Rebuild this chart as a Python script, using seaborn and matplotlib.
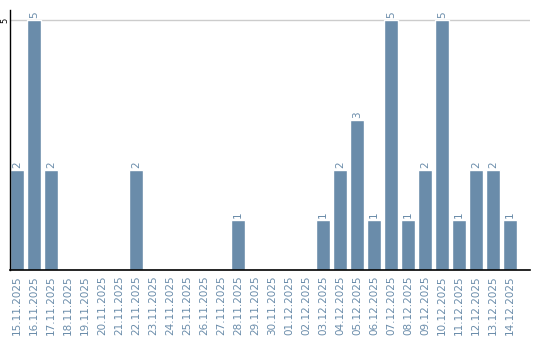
import matplotlib
matplotlib.use("Agg")
import matplotlib.pyplot as plt
import seaborn as sns
import pandas as pd

dates = ["15.11.2025", "16.11.2025", "17.11.2025", "18.11.2025", "19.11.2025",
         "20.11.2025", "21.11.2025", "22.11.2025", "23.11.2025", "24.11.2025",
         "25.11.2025", "26.11.2025", "27.11.2025", "28.11.2025", "29.11.2025",
         "30.11.2025", "01.12.2025", "02.12.2025", "03.12.2025", "04.12.2025",
         "05.12.2025", "06.12.2025", "07.12.2025", "08.12.2025", "09.12.2025",
         "10.12.2025", "11.12.2025", "12.12.2025", "13.12.2025", "14.12.2025"]
counts = [2, 5, 2, 0, 0, 0, 0, 2, 0, 0, 0, 0, 0, 1, 0,
          0, 0, 0, 1, 2, 3, 1, 5, 1, 2, 5, 1, 2, 2, 1]

df = pd.DataFrame({"date": dates, "count": counts})

sns.set_style("white")
plt.rcParams['font.family'] = ['DejaVu Sans']

bar_color = "#6a8caa"
text_color = "#6a8caa"

fig = plt.figure(figsize=(5.4, 3.4), dpi=100)
ax = fig.add_axes([10/540, 70/340, 520/540, 260/340])

sns.barplot(data=df, x="date", y="count", color=bar_color, saturation=1,
            width=0.82, ax=ax)

ax.set_xlim(-0.41, 30.18)
ax.set_ylim(0, 5.2)
ax.set_yticks([5])
ax.set_yticklabels(["5"], rotation=90, va="center", ha="right", fontsize=6,
                   color="black")
ax.tick_params(axis="y", length=0, pad=0.3)
ax.tick_params(axis="x", length=0, pad=4)
ax.set_xticks(range(len(dates)))
ax.set_xticklabels(dates, rotation=90, fontsize=7.5, color=text_color)
ax.set_xlabel("")
ax.set_ylabel("")
ax.axhline(5, color="#cccccc", lw=1, zorder=0)

for s in ["top", "right"]:
    ax.spines[s].set_visible(False)
ax.spines["left"].set_color("black")
ax.spines["bottom"].set_color("black")
ax.spines["left"].set_linewidth(1)
ax.spines["bottom"].set_linewidth(1.2)

for i, v in enumerate(counts):
    if v > 0:
        ax.text(i, v + 0.05, str(v), rotation=90, ha="center", va="bottom",
                fontsize=7.5, color=text_color)

fig.savefig("out.png", dpi=100)
